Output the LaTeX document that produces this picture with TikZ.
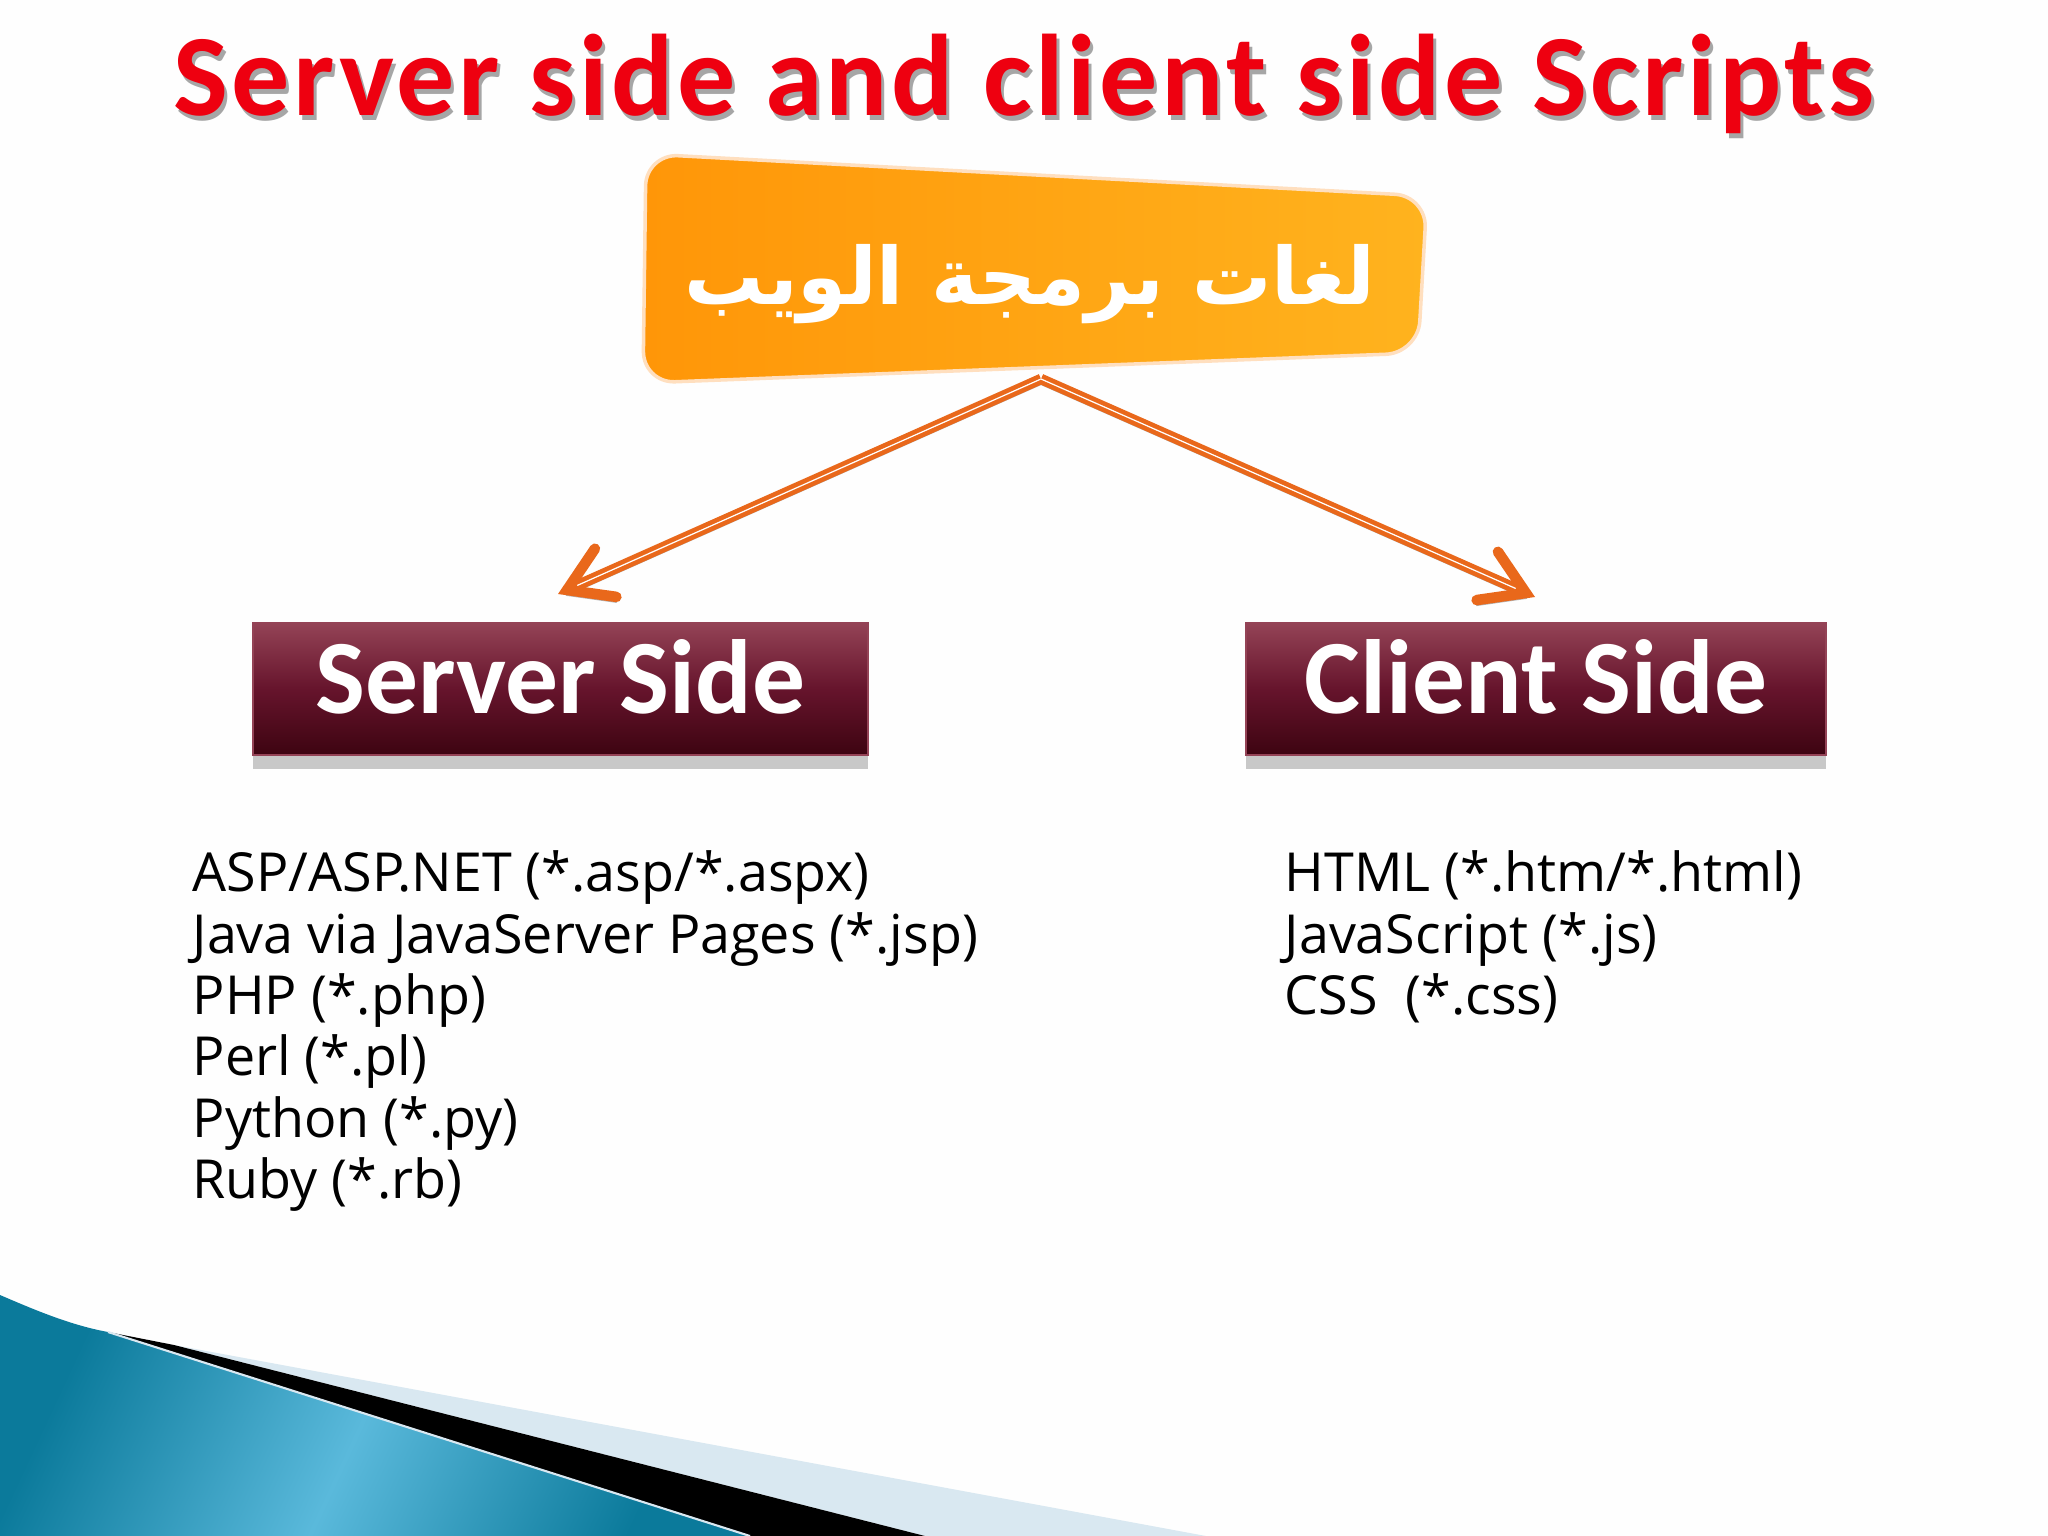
\documentclass[tikz,border=0pt]{standalone}
\usepackage{fontspec}
\usetikzlibrary{arrows.meta,shadows}
\setmainfont{Open Sans}
\newfontfamily\boxfont{Carlito}
\newfontfamily\arabicfont[Script=Arabic]{DejaVu Sans}
\TeXXeTstate=1
\definecolor{titlered}{HTML}{EE0010}
\definecolor{weborange}{HTML}{FF9608}
\definecolor{webgold}{HTML}{FFB31E}
\definecolor{arrowline}{HTML}{E9681B}
\definecolor{wineup}{HTML}{944356}
\definecolor{winemid}{HTML}{66142C}
\definecolor{winelow}{HTML}{3D0411}
\definecolor{seadark}{HTML}{0B7A9B}
\definecolor{sealight}{HTML}{5AB9DB}
\definecolor{palesky}{HTML}{D9E8F1}
\pgfdeclarehorizontalshading{seaband}{100bp}{color(0bp)=(seadark); color(34bp)=(seadark);
    color(50bp)=(sealight); color(66bp)=(seadark); color(100bp)=(seadark)}
\tikzset{
    sidebox/.style={minimum height=1.32cm,text height=.9cm,text depth=.42cm,inner sep=0pt,
        draw=wineup,line width=.4pt,
        top color=wineup,bottom color=winelow,middle color=winemid,
        text=white,font=\boxfont\bfseries\fontsize{30}{30}\selectfont,
        drop shadow={shadow xshift=0pt,shadow yshift=-4pt,opacity=.3,fill=black!70}},
    langlist/.style={anchor=north west,inner sep=0pt,align=left,
        font=\fontsize{15.3}{17.47}\selectfont},
    branch/.style={draw=arrowline,line width=3pt,
        -{Straight Barb[length=12pt,width=15pt,line cap=round]},
        preaction={draw=black!30,transform canvas={yshift=-1.5pt}},
        postaction={draw=white,line width=.35pt,-,shorten >=6pt}},
    headline/.style={font=\boxfont\fontsize{33}{33}\selectfont\bfseries\addfontfeature{LetterSpace=3},anchor=base},
}
\begin{document}
\begin{tikzpicture}[x=.01cm,y=-.01cm]
    \path[use as bounding box,fill=white!99.5!black] (0,0) rectangle (2048,1536);
    % corner at the bottom
    \fill[palesky] (174,1345)--(1206,1536)--(925,1536)--cycle;
    \fill[black] (108,1332)--(174,1345)--(925,1536)--(750,1536)--cycle;
    \begin{scope}
        \clip (0,1295)..controls (35,1310) and (70,1325)..(108,1332)--(750,1536)--(0,1536)--cycle;
        \shade[shading=seaband,shading angle=-25] (-110,1020) rectangle (790,1920);
    \end{scope}
    \draw[palesky,line width=.6pt] (108,1332)--(750,1536);
    % title
    \node[headline,text=black!35] (titleshadow) at (1027,120){Server side and client side Scripts};
    \node[headline,text=titlered] (title) at (1024,115){Server side and client side Scripts};
    % badge
    \shade[left color=weborange,right color=webgold,draw=orange!25,line width=1pt,rounded corners=.32cm]
        (646,154)--(1427,196)--(1418,353)--(643,383)--cycle;
    \node (badge) at (1030,284){\arabicfont\bfseries\fontsize{22.5}{22.5}\selectfont\color{white}\beginR لغات برمجة الويب\endR};
    \coordinate (badgetip) at (1041,379);
    % the two sides
    \node[sidebox,minimum width=6.15cm] (server) at (560.5,689){Server Side};
    \node[sidebox,minimum width=5.8cm] (client) at (1536,689){Client Side};
    \coordinate (servertip) at (558,594);
    \coordinate (clienttip) at (1535,597);
    \draw[branch] (badgetip)--(servertip);
    \draw[branch] (badgetip)--(clienttip);
    % lists
    \node[langlist] (serverlist) at (192,850){ASP/ASP.NET (*.asp/*.aspx)\\
        Java via JavaServer Pages (*.jsp)\\
        PHP (*.php)\\
        Perl (*.pl)\\
        Python (*.py)\\
        Ruby (*.rb)};
    \node[langlist] (clientlist) at (1284,850){HTML (*.htm/*.html)\\
        JavaScript (*.js)\\
        CSS~~(*.css)};
\end{tikzpicture}
\end{document}
